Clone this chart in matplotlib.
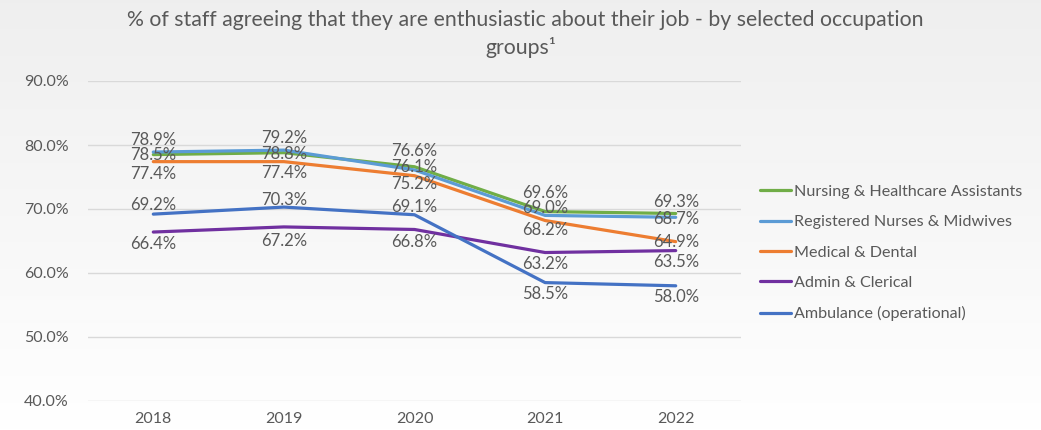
import matplotlib
matplotlib.use("Agg")
import matplotlib.pyplot as plt
import numpy as np

years = ["2018", "2019", "2020", "2021", "2022"]

nursing_hca = [78.5, 78.8, 76.6, 69.6, 69.3]
registered_nurses = [78.9, 79.2, 76.1, 69.0, 68.7]
medical_dental = [77.4, 77.4, 75.2, 68.2, 64.9]
admin_clerical = [66.4, 67.2, 66.8, 63.2, 63.5]
ambulance = [69.2, 70.3, 69.1, 58.5, 58.0]

series = [
    ("Nursing & Healthcare Assistants", nursing_hca, "#70AD47"),
    ("Registered Nurses & Midwives", registered_nurses, "#5B9BD5"),
    ("Medical & Dental", medical_dental, "#ED7D31"),
    ("Admin & Clerical", admin_clerical, "#7030A0"),
    ("Ambulance (operational)", ambulance, "#4472C4"),
]

# vertical nudges of the data labels, in pixels (positive = up)
label_nudge = [
    [0, -1, 16, 19, 11],
    [12, 12, 3, 7, -2],
    [-12, -11, -8, -9, 0],
    [-12, -14, -13, -11, -11],
    [9, 7, 8, -11, -11],
]

TEXT = "#595959"
plt.rcParams["font.family"] = ["Lato", "DejaVu Sans"]

fig = plt.figure(figsize=(10.41, 4.30), dpi=100)

# soft grey-to-white background
bg = fig.add_axes([0, 0, 1, 1], zorder=-10)
grad = np.linspace(0.937, 1.0, 256).reshape(-1, 1)
bg.imshow(np.dstack([grad, grad, grad]), aspect="auto", extent=[0, 1, 0, 1])
bg.axis("off")

ax = fig.add_axes([88 / 1041, 29 / 430, 653 / 1041, 320 / 430])
ax.patch.set_alpha(0)

x = np.arange(len(years))
for (name, vals, color), nudges in zip(series, label_nudge):
    ax.plot(x, np.array(vals) / 100, color=color, lw=2.3, label=name,
            solid_capstyle="round", solid_joinstyle="round")
    for xi, v, dy in zip(x, vals, nudges):
        ax.annotate(f"{v:.1f}%", (xi, v / 100), xytext=(0, dy),
                    textcoords="offset pixels", ha="center", va="center",
                    fontsize=12, color=TEXT)

ax.set_xlim(-0.5, len(years) - 0.5)
ax.set_ylim(0.4, 0.9)
ax.set_yticks(np.arange(0.4, 0.91, 0.1))
ax.yaxis.set_major_formatter(matplotlib.ticker.PercentFormatter(1.0, decimals=1))
ax.set_xticks(x)
ax.set_xticklabels(years)
ax.tick_params(length=0, labelsize=11.5, labelcolor=TEXT)
ax.tick_params(axis="y", pad=14)
ax.tick_params(axis="x", pad=8)
ax.grid(axis="y", color="#d9d9d9", lw=1)
ax.set_axisbelow(True)
for s in ax.spines.values():
    s.set_visible(False)

fig.text(0.505, 1 - 20 / 430,
         "% of staff agreeing that they are enthusiastic about their job - by selected occupation",
         ha="center", va="center", fontsize=15.3, color=TEXT)
fig.text(0.5, 1 - 47 / 430, "groups\u00b9", ha="center", va="center",
         fontsize=15.3, color=TEXT)

fig.legend(loc="center left", bbox_to_anchor=(760 / 1041, 1 - 253 / 430),
           frameon=False, fontsize=11.6, labelcolor=TEXT, handlelength=1.9,
           handletextpad=0.2, labelspacing=1.0, borderpad=0, borderaxespad=0)

fig.savefig("out.png", dpi=100)
